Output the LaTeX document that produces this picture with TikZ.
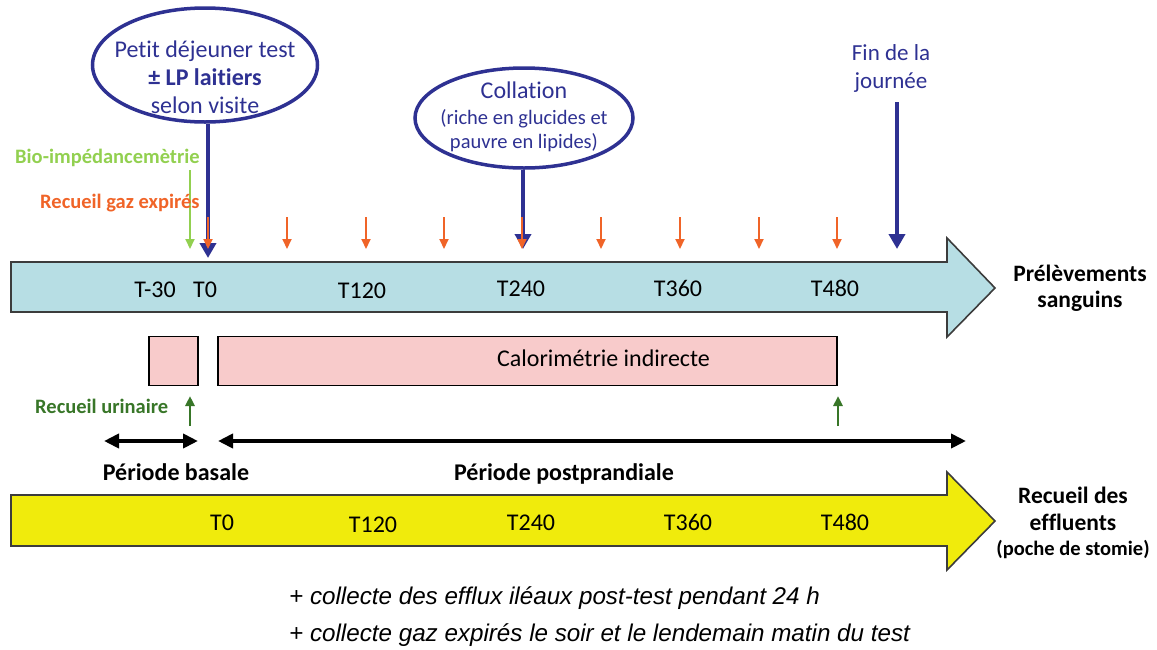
\documentclass[tikz,border=0pt]{standalone}
\usepackage{fontspec}
\setmainfont[Ligatures=NoCommon]{Carlito}
\newfontfamily\arialf{Liberation Sans}
\usetikzlibrary{shapes.geometric,arrows.meta}
\definecolor{dblue}{RGB}{46,49,146}
\definecolor{lteal}{RGB}{183,222,228}
\definecolor{ylw}{RGB}{240,235,12}
\definecolor{pinkf}{RGB}{248,203,203}
\definecolor{orng}{RGB}{240,100,40}
\definecolor{lgreen}{RGB}{146,208,80}
\definecolor{dgreen}{RGB}{56,118,40}
\definecolor{outl}{RGB}{60,60,60}
\newcommand{\fs}[1]{\fontsize{#1}{#1}\selectfont}
\begin{document}
\begin{tikzpicture}[x=1pt,y=-1pt,
  bigarrow/.style={draw=outl,line width=1.6pt,line join=miter},
  bubble/.style={ellipse,draw=dblue,line width=3.5pt,inner sep=0pt},
  txt/.style={inner sep=0pt,anchor=base},
  bluetxt/.style={txt,text=dblue},
  tlab/.style={txt,font=\fs{24}},
  darr/.style={draw=dblue,line width=4.5pt,-{Triangle[length=15pt,width=16pt]}},
  oarr/.style={draw=orng,line width=2pt,-{Triangle[length=10pt,width=9pt]}},
  garr/.style={draw=lgreen,line width=2pt,-{Triangle[length=10pt,width=9pt]}},
  dgarr/.style={draw=dgreen,line width=2.5pt,-{Triangle[length=10pt,width=9pt]}},
  barr/.style={draw=black,line width=4pt,{Triangle[length=15pt,width=14pt]}-{Triangle[length=15pt,width=14pt]}},
  pbox/.style={draw=black,line width=1.3pt,fill=pinkf,inner sep=0pt},
  rlab/.style={txt,font=\bfseries\fs{23.5}},
  sidelab/.style={inner sep=0pt,anchor=base west,font=\bfseries\fs{20.5}}
]
\useasboundingbox (0,0) rectangle (1157,649);

% block arrows
\draw[bigarrow,fill=lteal] (11,262) -- (947,262) -- (947,238) -- (995,288) -- (947,337) -- (947,312) -- (11,312) -- cycle;
\draw[bigarrow,fill=ylw] (11,495) -- (947,495) -- (947,472) -- (995,521) -- (947,570) -- (947,546) -- (11,546) -- cycle;

% time labels top
\node[tlab] (tm30) at (155,297) {T-30};
\node[tlab] (t0a) at (205,297) {T0};
\node[tlab] (t120a) at (362,298) {T120};
\node[tlab] (t240a) at (521,296) {T240};
\node[tlab] (t360a) at (678,296) {T360};
\node[tlab] (t480a) at (835,296) {T480};
% time labels bottom
\node[tlab] (t0b) at (222,530) {T0};
\node[tlab] (t120b) at (373,532) {T120};
\node[tlab] (t240b) at (531,530) {T240};
\node[tlab] (t360b) at (688,530) {T360};
\node[tlab] (t480b) at (845,530) {T480};

% pink boxes
\node[pbox,minimum width=49pt,minimum height=49pt] (basal) at (173.5,361) {};
\node[pbox,minimum width=619pt,minimum height=49pt] (calo) at (527.5,361) {};
\node[txt,font=\fs{24}] (calot) at (603.5,366) {Calorimétrie indirecte};

% bubbles
\node[bubble,minimum width=225pt,minimum height=114pt] (e1) at (205,65) {};
\node[bluetxt,font=\fs{24}] (e1a) at (205,57) {Petit déjeuner test};
\node[bluetxt,font=\bfseries\fs{24}] (e1b) at (205,85) {± LP laitiers};
\node[bluetxt,font=\fs{24}] (e1c) at (205,113) {selon visite};
\node[bubble,minimum width=218pt,minimum height=100pt] (e2) at (524,118) {};
\node[bluetxt,font=\fs{24}] (e2a) at (524,98) {Collation};
\node[bluetxt,font=\fs{20.5}] (e2b) at (524,124) {(riche en glucides et};
\node[bluetxt,font=\fs{20.5}] (e2c) at (524,148) {pauvre en lipides)};
\node[bluetxt,font=\fs{23}] (fin1) at (891,60) {Fin de la};
\node[bluetxt,font=\fs{23}] (fin2) at (891,88) {journée};

\coordinate (a1) at (208,258);
\coordinate (a2) at (523,249);
\coordinate (a3top) at (897,102);
\coordinate (a3) at (897,249);
\draw[darr] (e1.south -| a1) -- (a1);
\draw[darr] (e2.south -| a2) -- (a2);
\draw[darr] (a3top) -- (a3);

% orange arrows
\foreach \i/\x in {0/208,1/287,2/366,3/444,4/522,5/601,6/680,7/759,8/837}{
  \coordinate (os\i) at (\x,217);
  \coordinate (oe\i) at (\x,249);
  \draw[oarr] (os\i) -- (oe\i);
}
% green bio arrow
\coordinate (gs) at (190,170);
\coordinate (ge) at (190,249);
\draw[garr] (gs) -- (ge);

\node[sidelab,text=lgreen] (bio) at (15,163) {Bio-impédancemètrie};
\node[sidelab,text=orng] (gaz) at (40,208) {Recueil gaz expirés};
\node[sidelab,text=dgreen] (uri) at (35,413) {Recueil urinaire};

% urinary arrows
\coordinate (u1s) at (190,426);
\coordinate (u1e) at (190,396);
\coordinate (u2s) at (838,426);
\coordinate (u2e) at (838,396);
\draw[dgarr] (u1s) -- (u1e);
\draw[dgarr] (u2s) -- (u2e);

% period arrows
\coordinate (p1a) at (104,441);
\coordinate (p1b) at (198,441);
\coordinate (p2a) at (218,441);
\coordinate (p2b) at (966,441);
\draw[barr] (p1a) -- (p1b);
\draw[barr] (p2a) -- (p2b);
\node[txt,font=\bfseries\fs{24}] (pbas) at (176,480) {Période basale};
\node[txt,font=\bfseries\fs{24}] (ppost) at (564,480) {Période postprandiale};

% right labels
\node[rlab] (prel1) at (1080,281) {Prélèvements};
\node[rlab] (prel2) at (1080,307) {sanguins};
\node[rlab] (eff1) at (1073,503) {Recueil des};
\node[rlab] (eff2) at (1073,530) {effluents};
\node[txt,font=\bfseries\fs{20.5}] (stom) at (1073,555) {(poche de stomie)};

% bottom notes
\node[inner sep=0pt,anchor=base west,font=\arialf\itshape\fs{24.2}] (n1) at (289,604) {+ collecte des efflux iléaux post-test pendant 24 h};
\node[inner sep=0pt,anchor=base west,font=\arialf\itshape\fs{24.2}] (n2) at (289,641) {+ collecte gaz expirés le soir et le lendemain matin du test};
\end{tikzpicture}
\end{document}
